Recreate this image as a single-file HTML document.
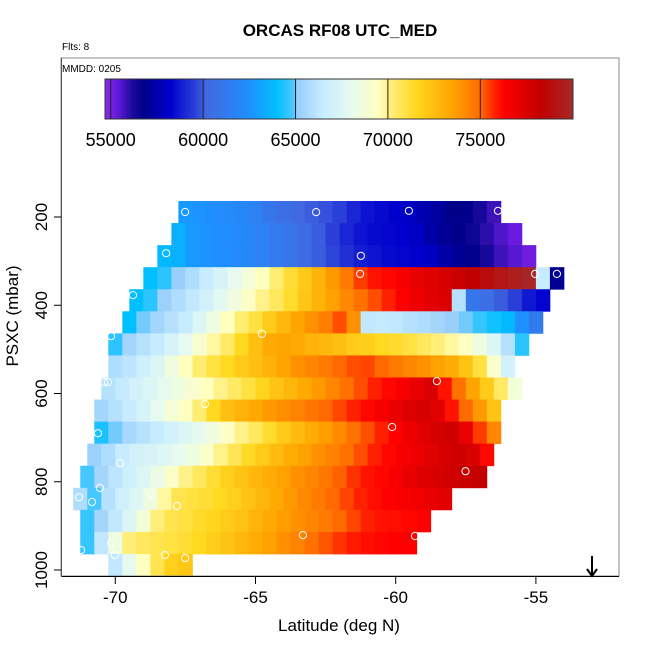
<!DOCTYPE html>
<html><head><meta charset="utf-8"><style>
body{margin:0;background:#fff;}
svg{display:block;font-family:"Liberation Sans",sans-serif;}
</style></head><body>
<svg id="chart" width="650" height="650" viewBox="0 0 650 650">
<text x="340" y="36" text-anchor="middle" font-size="17" font-weight="bold">ORCAS RF08 UTC_MED</text>
<text x="62" y="50" font-size="10">Flts: 8</text>
<g id="plot"></g>
<rect x="61" y="58" width="558" height="518" fill="none" stroke="#888" stroke-width="1"/>
<line x1="61" y1="576.5" x2="619" y2="576.5" stroke="#000"/>
<line x1="61.5" y1="58" x2="61.5" y2="577" stroke="#555"/>
<text x="62" y="72" font-size="10">MMDD: 0205</text>
<g id="cbar"></g>
<g id="axes"></g>
<text x="339" y="631" text-anchor="middle" font-size="17">Latitude (deg N)</text>
<text transform="translate(18,316) rotate(-90)" text-anchor="middle" font-size="17">PSXC (mbar)</text>
<g>
<line x1="592" y1="556" x2="592" y2="575" stroke="#000" stroke-width="2"/>
<path d="M587,569 L592,576 L597,569" fill="none" stroke="#000" stroke-width="2"/>
</g>
</svg>
<script>
const xTicks=[-70,-65,-60,-55];
const yTicks=[200,400,600,800,1000];
const cbTicks=[55000,60000,65000,70000,75000];
const rowPressures=[188.7,238.7,288.7,338.7,388.7,438.7,488.7,538.7,588.7,638.7,688.7,738.7,788.7,838.7,888.7,938.7,988.7];
const rowStartLat=[-67.75,-68,-68.5,-69,-69.5,-69.75,-70.25,-70.25,-70.5,-70.75,-70.75,-71,-71.25,-71.5,-71.25,-71.25,-70.25];
const row0=[62.8,62.6,62.4,62.2,62,61.6,61,60.5,60.2,60,59.8,59.5,59,58.6,58.4,58.2,58,57.6,57.2,56.8,56.8,56.3,55.8];
const row1=[63.5,62.8,62.6,62.4,62.2,62,61.6,61.2,60.8,60.4,60,59.5,59,58.6,58.4,58.3,58.2,58,57.4,57,56.8,56.5,56,55.6,55.3];
const row2=[63.8,63.5,62.8,62.6,62.4,62.2,62,61.6,61.2,60.8,60.4,60,59.6,59.2,58.8,58.6,58.4,58.3,58.2,58,57.4,57,56.8,56.3,55.8,55.5,55.2];
const row3=[64,64.5,65.2,65.8,66.5,67.2,68,68.8,69.5,70.3,71.2,72,73,73.8,74.6,75.5,76,76.2,76.5,77,77.3,77.6,78,78.3,78.8,79.2,79.5,79.8,66.5,57];
const row4=[64,64.5,65.3,65.8,66.3,67,67.8,68.6,69.3,70,70.6,71.3,72.2,73,73.6,74.2,74.8,75.3,75.8,76.3,76.8,77.2,77.4,66,61,60.5,60,59.5,58.7,58.3];
const row5=[64,65,65.5,66,66.5,67.5,68.5,69.5,70.3,71,72,72.8,73.5,74,74.5,75.3,74,66.3,66.4,66.3,66,65.8,65.5,65.2,65,64.6,64.2,63.8,62.5,61.3];
const row6=[64.5,65.5,66,66.5,67.2,68,69,69.8,70.5,71.5,72.5,73.3,73.5,73.3,73,72.8,72.5,72,71.8,71.5,71.3,71,70.6,70.2,69.8,69.4,68.5,67.5,66,64.5];
const row7=[65.8,66.2,66.8,67.5,68.5,69.5,70.3,71,71.5,72,72.5,73,73.5,74,74.3,74.6,75,75.3,75.4,75,74.6,74.3,74,73.6,73.2,72.3,71,69.2,67];
const row8=[66,66.4,67,67.5,68,68.5,69,69.5,70,70.5,71,71.6,72.3,72.8,73.3,73.8,74.3,74.8,75.3,75.8,76.2,76.6,77,77.5,76,74.8,73.5,72,70.5,68.8];
const row9=[65.5,66,66.5,67.2,68,68.8,69.5,70.3,71.5,72.5,73,73.4,73.8,74.1,74.4,74.7,75,75.4,75.8,76.2,76.6,77,77.4,77.6,77.2,76,75,73.8,72.3];
const row10=[64.3,65,65.6,66,66.5,67,67.5,68,68.6,69.3,70,70.6,71.3,72,72.6,73.2,73.7,74.2,74.8,75.3,75.8,76.3,76.8,77.3,77.6,77.8,77,75.5,74.3];
const row11=[65.3,65.8,66.5,67,67.3,67.6,68,68.5,69.2,70,70.7,71.4,72,72.6,73.2,73.6,74,74.4,74.8,75.3,75.8,76.2,76.5,76.8,77.2,77.6,77.8,77.5,76.2];
const row12=[64.8,65.5,66.2,66.8,67.5,68.3,69.2,70,70.6,71.2,71.8,72.3,72.8,73.2,73.6,74,74.3,74.7,75.1,75.6,76,76.2,76.5,77,77.4,77.6,77.8,78,78.2];
const row13=[65.8,64.8,66,66.8,67.5,68.5,69.8,70.8,71,71.2,71.5,71.8,72.3,72.8,73.3,73.8,74.2,74.6,75,75.4,75.8,76.1,76.3,76.5,76.7,77,77.2];
const row14=[64.6,65.5,66.3,67.5,68.8,70.2,70.8,71,71.3,71.6,72,72.4,72.9,73.3,73.7,74,74.3,74.6,75,75.4,75.8,76,76.1,76.2,76.3];
const row15=[64.6,66.3,68.5,70.2,70.6,70.8,71,71.2,71.5,71.9,72.3,72.8,73.2,73.6,74,74.4,74.8,75.2,75.6,75.9,76.1,76.2,76.3,76.3];
const row16=[66.3,68,69.5,70.8,71.8,72.2];
const rows=[row0,row1,row2,row3,row4,row5,row6,row7,row8,row9,row10,row11,row12,row13,row14,row15,row16];
const ptLat=[-67.51,-62.84,-59.53,-56.35,-68.19,-61.24,-61.27,-55.03,-54.25,-69.37,-64.77,-70.15,-58.53,-70.40,-70.26,-66.80,-60.13,-70.62,-69.83,-57.51,-70.55,-71.29,-68.73,-70.83,-67.80,-63.31,-59.31,-71.22,-70.15,-70.01,-68.23,-67.51];
const ptPres=[188.7,189,186,186,282,288,329,329,329,377,465,470,572,574,574,624,676,690,758,776,814,835,828,846,855,921,923,955,939,966,966,973];

const cellW=0.5, rowH=50;
const X=lat=>115.3+(lat+70)*28.04;
const Y=p=>217+(p-200)*0.44125;
const CB=v=>110.7+(v-55000)*92.4/5000;
const stops=[[54.7,[138,43,226]],[55.3,[106,27,224]],[56.2,[26,10,154]],[56.8,[0,0,139]],[58.2,[0,0,205]],[59.5,[42,62,216]],[60.2,[65,105,225]],[62.5,[30,144,255]],[64,[0,191,255]],[64.9,[80,200,255]],[65.1,[150,205,250]],[66.5,[200,236,255]],[68,[230,250,240]],[69.5,[255,255,192]],[70.1,[255,240,128]],[71.5,[255,216,32]],[73.5,[255,165,0]],[75,[255,106,0]],[75.8,[255,32,0]],[76.3,[255,0,0]],[78.3,[192,0,0]],[80,[165,42,42]]];
function col(v){
  if(v<=stops[0][0])return 'rgb('+stops[0][1]+')';
  for(let i=1;i<stops.length;i++){
    if(v<=stops[i][0]){const a=stops[i-1],b=stops[i];const t=(v-a[0])/(b[0]-a[0]);
      return 'rgb('+a[1].map((c,k)=>Math.round(c+(b[1][k]-c)*t)).join(',')+')';}
  }
  return 'rgb('+stops[stops.length-1][1]+')';
}
const NS='http://www.w3.org/2000/svg';
function mk(tag,attrs,parent){const e=document.createElementNS(NS,tag);for(const k in attrs)e.setAttribute(k,attrs[k]);parent.appendChild(e);return e;}
const plot=document.getElementById('plot');
rows.forEach((vals,r)=>{
  const p=rowPressures[r];
  vals.forEach((v,i)=>{
    const l0=rowStartLat[r]+i*cellW;
    const x0=X(l0),x1=X(l0+cellW),y0=Y(p-rowH/2),y1=Y(p+rowH/2);
    const c=mk('rect',{x:x0.toFixed(2),y:y0.toFixed(2),width:(x1-x0+0.4).toFixed(2),height:(y1-y0+0.4).toFixed(2),fill:col(v)},plot);
    
    
  });
});
ptLat.forEach((lat,i)=>{
  const c=mk('circle',{cx:X(lat).toFixed(1),cy:Y(ptPres[i]).toFixed(1),r:3.6,fill:'none',stroke:'#fff','stroke-width':1},plot);
  
  
});
// colorbar
const cb=document.getElementById('cbar');
const x0=105,x1=573,cy0=79,cbh=40;
for(let x=x0;x<x1;x+=2){
  const v=(55000+(x+1-110.7)*5000/92.4)/1000;
  const r=mk('rect',{x:x,y:cy0,width:2.4,height:cbh,fill:col(v)},cb);
  
  
}
const fr=mk('rect',{x:x0,y:cy0,width:x1-x0,height:cbh,fill:'none',stroke:'#333','stroke-width':1},cb);


cbTicks.forEach(t=>{
  const x=CB(t);
  const l=mk('line',{x1:x,y1:cy0,x2:x,y2:cy0+cbh,stroke:'#222','stroke-width':1},cb);
  
  
  const tx=mk('text',{x:x,y:146,'text-anchor':'middle','font-size':18},cb);
  tx.textContent=t;
  
  
});
const ax=document.getElementById('axes');
xTicks.forEach(t=>{
  const x=X(t);
  const l=mk('line',{x1:x,y1:577,x2:x,y2:584,stroke:'#000'},ax);
  
  
  const tx=mk('text',{x:x,y:603,'text-anchor':'middle','font-size':17},ax);
  tx.textContent=t;
  
  
});
yTicks.forEach(t=>{
  const y=Y(t);
  const l=mk('line',{x1:54,y1:y,x2:61,y2:y,stroke:'#000'},ax);
  
  
  const tx=mk('text',{transform:'translate(47,'+y+') rotate(-90)','text-anchor':'middle','font-size':17},ax);
  tx.textContent=t;
  
  
});
</script>
</body></html>
